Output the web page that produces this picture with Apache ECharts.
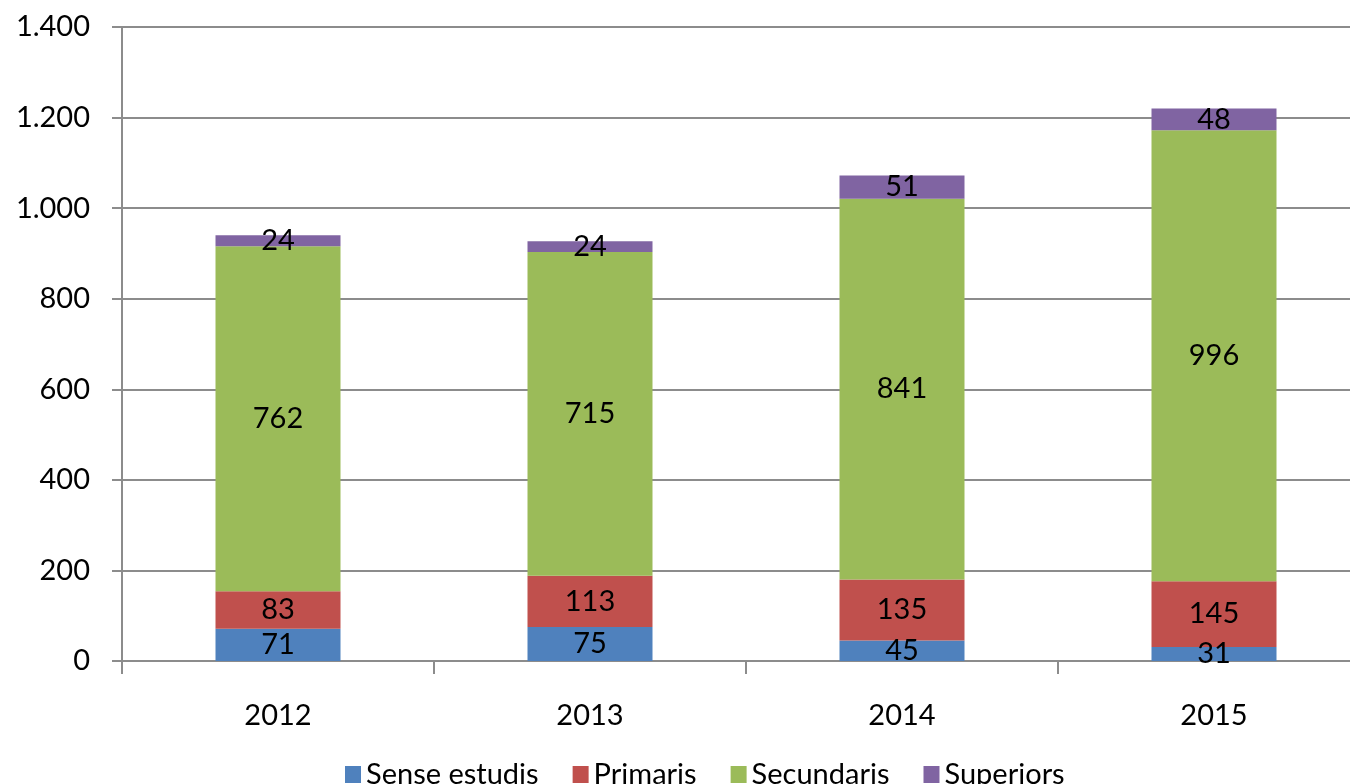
<!DOCTYPE html>
<html>
<head>
<meta charset="utf-8">
<script src="https://cdn.jsdelivr.net/npm/echarts@6/dist/echarts.min.js"></script>
<style>html,body{margin:0;padding:0;background:#fff;overflow:hidden;width:1350px;height:784px}#c{width:1370px;height:784px}</style>
</head>
<body>
<div id="c"></div>
<script>
const categories = ['2012', '2013', '2014', '2015'];
const senseEstudis = [71, 75, 45, 31];
const primaris = [83, 113, 135, 145];
const secundaris = [762, 715, 841, 996];
const superiors = [24, 24, 51, 48];
const seriesNames = ['Sense estudis', 'Primaris', 'Secundaris', 'Superiors'];
const colors = ['#4F81BD', '#C0504D', '#9BBB59', '#8064A2'];
const FONT = 'Lato, "Noto Sans", sans-serif';

const chart = echarts.init(document.getElementById('c'), null, {renderer: 'canvas'});
const values = [senseEstudis, primaris, secundaris, superiors];
const series = values.map((d, i) => ({
  name: seriesNames[i],
  type: 'bar',
  stack: 'total',
  barWidth: 125,
  data: d,
  itemStyle: {color: colors[i]},
  label: {
    show: true,
    position: 'inside',
    color: '#000',
    fontFamily: FONT,
    fontSize: 29
  }
}));

chart.setOption({
  animation: false,
  color: colors,
  grid: {left: 122, right: 0, top: 27, bottom: 123, containLabel: false},
  legend: {
    left: 340,
    top: 755,
    itemWidth: 16,
    itemHeight: 17,
    itemGap: 34,
    icon: 'rect',
    textStyle: {fontFamily: FONT, fontSize: 29, color: '#000'},
    data: seriesNames
  },
  xAxis: {
    type: 'category',
    data: categories,
    axisLine: {show: true, lineStyle: {color: '#8c8c8c', width: 2}},
    axisTick: {show: true, length: 13, alignWithLabel: false, lineStyle: {color: '#8c8c8c', width: 2}},
    axisLabel: {fontFamily: FONT, fontSize: 29, color: '#000', margin: 40}
  },
  yAxis: {
    type: 'value',
    min: 0,
    max: 1400,
    interval: 200,
    axisLine: {show: true, lineStyle: {color: '#8c8c8c', width: 2}},
    axisTick: {show: true, length: 10, lineStyle: {color: '#8c8c8c', width: 2}},
    splitLine: {show: true, lineStyle: {color: '#8c8c8c', width: 2}},
    axisLabel: {
      fontFamily: FONT, fontSize: 29, color: '#000', margin: 32,
      formatter: v => String(v).replace(/\B(?=(\d{3})+(?!\d))/g, '.')
    }
  },
  series: series
});
</script>
</body>
</html>
